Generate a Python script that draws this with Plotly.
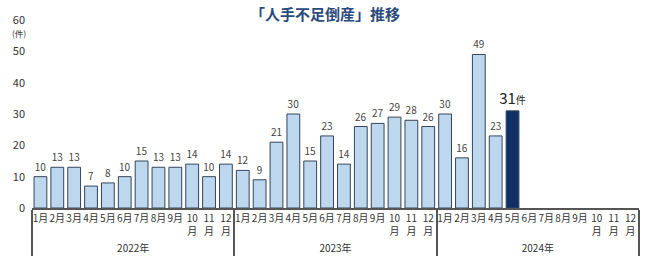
import plotly.graph_objects as go

years = ["2022年"] * 12 + ["2023年"] * 12 + ["2024年"] * 12
months = ["1月", "2月", "3月", "4月", "5月", "6月", "7月", "8月", "9月",
          "10<br>月", "11<br>月", "12<br>月"] * 3
values_2022 = [10, 13, 13, 7, 8, 10, 15, 13, 13, 14, 10, 14]
values_2023 = [12, 9, 21, 30, 15, 23, 14, 26, 27, 29, 28, 26]
values_2024 = [30, 16, 49, 23, 31]
values = values_2022 + values_2023 + values_2024 + [None] * 7

title = "「人手不足倒産」推移"
highlight_index = 28

light = "#bdd7ee"
dark = "#0f2f66"

colors = [dark if i == highlight_index else light for i in range(len(values))]
texts = []
sizes = []
tcolors = []
for i, v in enumerate(values):
    if v is None:
        texts.append("")
    elif i == highlight_index:
        texts.append(f"{v}<span style='font-size:10px'>件</span>")
    else:
        texts.append(str(v))
    sizes.append(15 if i == highlight_index else 10)
    tcolors.append("#222222" if i == highlight_index else "#444444")

font = "Noto Sans CJK JP"

fig = go.Figure(go.Bar(
    x=[years, months],
    y=values,
    marker=dict(color=colors, line=dict(color="#34465a", width=1)),
    text=texts,
    textposition="outside",
    constraintext="none",
    textfont=dict(size=sizes, color=tcolors, family=font),
    cliponaxis=False,
    width=0.76,
))

fig.update_layout(
    width=650, height=271,
    margin=dict(l=32, r=11, t=16, b=63),
    paper_bgcolor="white", plot_bgcolor="white",
    showlegend=False,
    font=dict(family=font, color="#333333", size=10),
    title=dict(text=f"<b>{title}</b>", x=0.5, xanchor="center",
               y=0.945, yanchor="middle",
               font=dict(size=15, color="#2b4a7c", family=font)),
)
fig.update_xaxes(
    type="multicategory",
    tickangle=0,
    showline=True, linecolor="#555555", linewidth=1.5,
    showdividers=True, dividercolor="#555555", dividerwidth=1.5,
    tickfont=dict(size=10, color="#333333", family=font),
    ticks="", showgrid=False,
)
fig.update_yaxes(
    range=[0, 60], dtick=10, showgrid=False, zeroline=False, showline=False,
    tickfont=dict(size=11, color="#333333", family=font),
    ticklabelstandoff=6,
)
fig.add_annotation(text="(件)", xref="paper", yref="y", x=-0.021, y=60,
                   xanchor="center", yanchor="top", yshift=-5, showarrow=False,
                   font=dict(size=8.5, color="#333333", family=font))

fig.write_html("out.html")
